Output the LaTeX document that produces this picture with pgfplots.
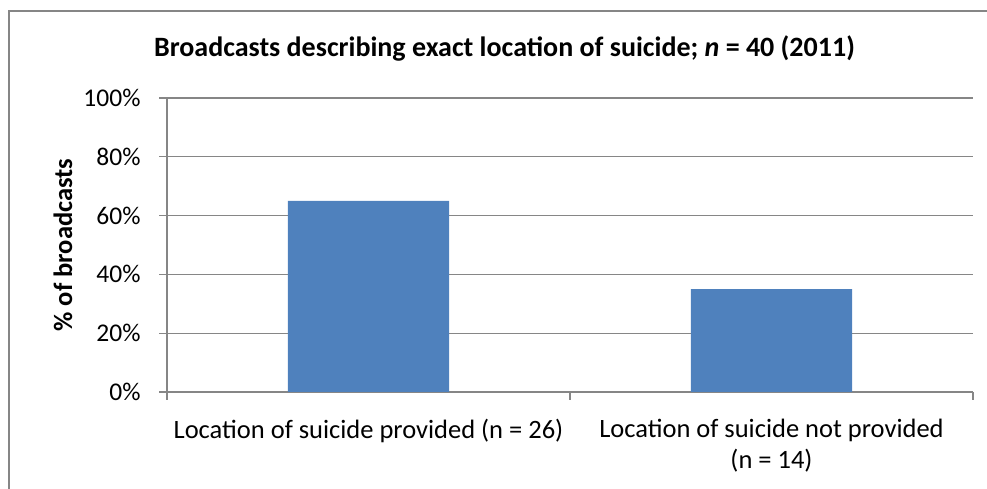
\documentclass[border=0pt]{standalone}
\usepackage{fontspec}
\setmainfont{Carlito}
\usepackage{pgfplots}
\pgfplotsset{compat=1.18}
\definecolor{barblue}{HTML}{4F81BD}
\definecolor{axgray}{HTML}{868686}
\begin{document}
\begin{tikzpicture}[x=1bp,y=1bp]
\path[use as bounding box] (0,0) rectangle (987,489);
% chart area frame (only left and top visible)
\draw[axgray, line width=1.5bp] (9,-2) -- (9,478) -- (989,478);
\begin{axis}[at={(167bp,97bp)}, anchor=south west, scale only axis,
  width=806bp, height=294bp,
  xmin=0, xmax=2, ymin=0, ymax=100,
  axis x line*=bottom, axis y line*=left,
  axis line style={axgray, line width=1.2bp, -},
  ytick={0,20,...,100},
  yticklabel={\pgfmathprintnumber{\tick}\%},
  /pgf/number format/assume math mode=true,
  ymajorgrids, grid style={axgray, line width=1.2bp},
  xtick={0,1,2}, xticklabels={},
  tick align=outside, major tick length=8bp,
  tick style={axgray, line width=1.2bp},
  extra x ticks={0.5,1.5},
  extra x tick labels={Location of suicide provided (n = 26),{Location of suicide not provided\\(n = 14)}},
  extra x tick style={major tick length=0pt, grid=none,
    xticklabel style={align=center, yshift=-24bp,
      font=\fontsize{26.5bp}{31bp}\selectfont}},
  ticklabel style={font=\fontsize{25.5bp}{31bp}\selectfont, text=black},
  yticklabel style={xshift=-15bp},
]
\addplot[ybar, bar width=0.4, fill=barblue, draw=none]
  coordinates {(0.5,65) (1.5,35)};
\end{axis}
\node[anchor=base, font=\bfseries\fontsize{28bp}{33bp}\selectfont] at (504.5,432)
  {Broadcasts describing exact location of suicide; \textit{n} = 40 (2011)};
\node[rotate=90, font=\bfseries\fontsize{26.5bp}{31bp}\selectfont] at (63,244)
  {\% of broadcasts};
\end{tikzpicture}
\end{document}
